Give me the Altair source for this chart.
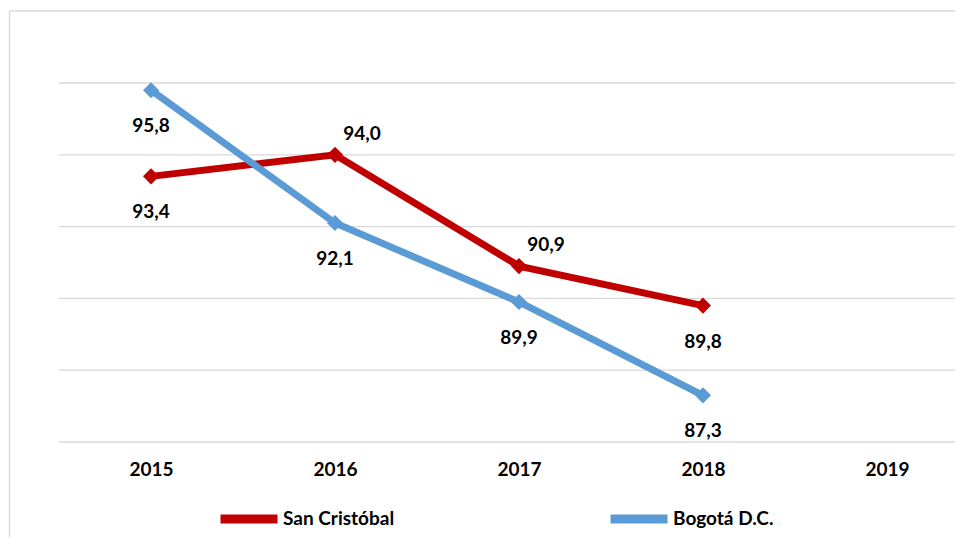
import altair as alt
import pandas as pd

# ---- data ----
years = [2015, 2016, 2017, 2018]
san_cristobal = [93.4, 94.0, 90.9, 89.8]
bogota = [95.8, 92.1, 89.9, 87.3]
series_names = ["San Cristóbal", "Bogotá D.C."]
series_colors = ["#C00000", "#5B9BD5"]
axis_years = [2015, 2016, 2017, 2018, 2019]
grid_levels = [86, 88, 90, 92, 94, 96]

rows = []
for name, vals in zip(series_names, [san_cristobal, bogota]):
    for yr, v in zip(years, vals):
        rows.append({"serie": name, "anio": yr, "valor": v})
df = pd.DataFrame(rows)
grid_df = pd.DataFrame({"nivel": grid_levels})
frame_df = pd.DataFrame({"k": [0]})

W, H = 946, 526
FONT = "Lato"
FS = 19
GRID = "#D9D9D9"
X_MIN, X_MAX = 2014.228, 2019.370

x_scale = alt.Scale(domain=[X_MIN, X_MAX], nice=False, zero=False)
y_scale = alt.Scale(domain=[83.354, 98.006], nice=False, zero=False)
color_scale = alt.Scale(domain=series_names, range=series_colors)

x_axis = alt.Axis(values=axis_years, format="d", orient="bottom", offset=-77,
                  domain=False, ticks=False, tickSize=0, grid=False, title=None,
                  labelPadding=0, labelFont=FONT, labelFontSize=FS,
                  labelFontWeight="bold", labelColor="#000000",
                  labelFlush=False, labelOverlap=False, labelBound=False)
y_axis = alt.Axis(labels=False, ticks=False, grid=False, title=None,
                  domain=True, domainColor=GRID, domainWidth=1.5)

legend = alt.Legend(orient="none", legendX=207, legendY=475, direction="horizontal",
                    columns=2, columnPadding=197, title=None,
                    symbolType="stroke", symbolSize=3249, symbolStrokeWidth=9,
                    labelFont=FONT, labelFontSize=FS, labelFontWeight="bold",
                    labelColor="#000000", labelOffset=1, labelLimit=0)

grid = alt.Chart(grid_df).mark_rule(color=GRID, strokeWidth=1.3).encode(
    y=alt.Y("nivel:Q", scale=y_scale, axis=y_axis),
    x=alt.X(datum=2014.5, type="quantitative", scale=x_scale, axis=x_axis),
    x2=alt.X2(datum=X_MAX),
)

top_edge = alt.Chart(frame_df).mark_rule(color=GRID, strokeWidth=1.5).encode(
    x=alt.value(0), x2=alt.value(W), y=alt.value(0)
)

def series_layer(name):
    return alt.Chart(df).transform_filter(alt.datum.serie == name).mark_line(
        strokeWidth=7,
        point=alt.OverlayMarkDef(shape="diamond", size=260, filled=True, opacity=1),
    ).encode(
        x=alt.X("anio:Q", scale=x_scale, axis=x_axis),
        y=alt.Y("valor:Q", scale=y_scale, axis=y_axis),
        color=alt.Color("serie:N", scale=color_scale, legend=legend),
    )

lbl_expr = "replace(format(datum.valor, '.1f'), '.', ',')"

labels_below = alt.Chart(df).transform_filter(
    "datum.serie == 'Bogotá D.C.' || datum.anio == 2015 || datum.anio == 2018"
).transform_calculate(lbl=lbl_expr).mark_text(
    font=FONT, fontSize=FS, fontWeight="bold", color="#000000",
    baseline="middle", align="center", dy=36,
).encode(
    x=alt.X("anio:Q", scale=x_scale, axis=x_axis),
    y=alt.Y("valor:Q", scale=y_scale, axis=y_axis),
    text="lbl:N",
)

labels_above = alt.Chart(df).transform_filter(
    "datum.serie == 'San Cristóbal' && (datum.anio == 2016 || datum.anio == 2017)"
).transform_calculate(lbl=lbl_expr).mark_text(
    font=FONT, fontSize=FS, fontWeight="bold", color="#000000",
    baseline="middle", align="center", dx=27, dy=-21,
).encode(
    x=alt.X("anio:Q", scale=x_scale, axis=x_axis),
    y=alt.Y("valor:Q", scale=y_scale, axis=y_axis),
    text="lbl:N",
)

chart = alt.layer(
    grid, top_edge,
    series_layer("San Cristóbal"), series_layer("Bogotá D.C."),
    labels_below, labels_above,
).properties(
    width=W, height=H,
    background="white",
    autosize=alt.AutoSizeParams(type="none"),
    padding={"left": 1, "top": 3, "right": 1, "bottom": 1},
).configure_view(strokeOpacity=0, strokeWidth=0)

chart.save("out.html", embed_options={"renderer": "svg", "actions": False})
